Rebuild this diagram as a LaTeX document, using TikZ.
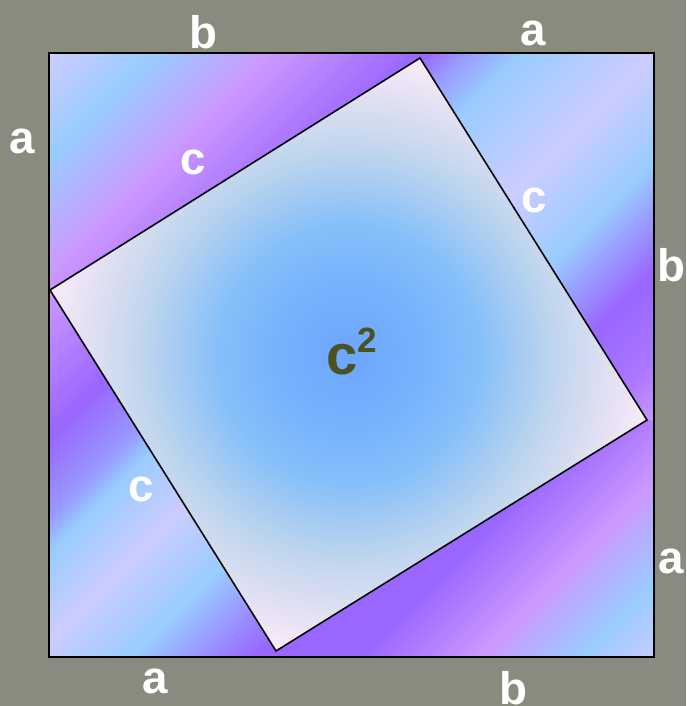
\documentclass[tikz,border=0pt]{standalone}
\usepackage{fontspec}
\setsansfont{Liberation Sans}
\usetikzlibrary{calc}

\definecolor{slate}{HTML}{878C7E}
\definecolor{lav}{HTML}{CCCCFF}
\definecolor{sky}{HTML}{99CCFF}
\definecolor{orchid}{HTML}{CC99FF}
\definecolor{periw}{HTML}{9999FF}
\definecolor{midviolet}{HTML}{AA77FF}
\definecolor{dkviolet}{HTML}{9966FF}
\definecolor{moss}{HTML}{4B5222}
\definecolor{glowA}{HTML}{6CA6FF}
\definecolor{glowB}{HTML}{76B2FC}
\definecolor{glowC}{HTML}{86C0F9}
\definecolor{glowD}{HTML}{A2CAF3}
\definecolor{glowE}{HTML}{BDD5EE}
\definecolor{glowF}{HTML}{D4DCEF}
\definecolor{glowG}{HTML}{EAE3F5}
\definecolor{glowH}{HTML}{F8ECF8}

% stripes of the four corner triangles (all mapped on the outer square)
\pgfdeclarehorizontalshading{triTL}{100bp}{color(0bp)=(lav); color(14.7bp)=(lav); color(20.6bp)=(sky);
  color(27.4bp)=(orchid); color(36.4bp)=(dkviolet); color(100bp)=(dkviolet)}
\pgfdeclarehorizontalshading{triTR}{100bp}{color(0bp)=(dkviolet); color(36.6bp)=(dkviolet); color(38.9bp)=(periw);
  color(42.2bp)=(sky); color(50bp)=(lav); color(56.4bp)=(sky); color(59.6bp)=(periw);
  color(62.9bp)=(dkviolet); color(68bp)=(midviolet); color(72bp)=(orchid); color(100bp)=(orchid)}
\pgfdeclarehorizontalshading{triBR}{100bp}{color(0bp)=(dkviolet); color(68bp)=(dkviolet); color(75.3bp)=(orchid);
  color(81.2bp)=(sky); color(86bp)=(lav); color(100bp)=(lav)}
\pgfdeclarehorizontalshading{triBL}{100bp}{color(0bp)=(orchid); color(28.5bp)=(orchid); color(37bp)=(dkviolet);
  color(41.8bp)=(periw); color(43.8bp)=(sky); color(49bp)=(lav); color(54.9bp)=(sky);
  color(58.4bp)=(periw); color(62.1bp)=(dkviolet); color(100bp)=(dkviolet)}
% glow of the inner square
\pgfdeclareradialshading{squareglow}{\pgfpointorigin}{color(0bp)=(glowA); color(6bp)=(glowB);
  color(11bp)=(glowC); color(14bp)=(glowD); color(17bp)=(glowE); color(20bp)=(glowF);
  color(23bp)=(glowG); color(25.5bp)=(glowH); color(50bp)=(glowH)}

\begin{document}
\begin{tikzpicture}[
  x=0.02cm, y=-0.02cm,
  sidelbl/.style={text=white, inner sep=0pt, font=\sffamily\bfseries\fontsize{26}{26}\selectfont},
  arealbl/.style={text=moss, inner sep=0pt, font=\sffamily\bfseries\fontsize{32}{32}\selectfont},
]

% Background
\useasboundingbox (0,0) rectangle (686,706);
\fill[slate] (0,0) rectangle (686,706);

% Outer square and inner (tilted) square
\coordinate (TL) at (49,53);
\coordinate (TR) at (654,53);
\coordinate (BR) at (654,657);
\coordinate (BL) at (49,657);
\coordinate (Qt) at (420,58);
\coordinate (Qr) at (647,420);
\coordinate (Qb) at (276,651);
\coordinate (Ql) at (50,290);
\coordinate (O) at (351.5,355);

% Corner triangles
\foreach \corner/\fromv/\tov/\sh in {TL/Ql/Qt/triTL, TR/Qt/Qr/triTR, BR/Qr/Qb/triBR, BL/Qb/Ql/triBL} {
  \begin{scope}
    \clip (\corner) -- ($(O)!1.3!(\fromv)$) -- (O) -- ($(O)!1.3!(\tov)$) -- cycle;
    \shade[shading=\sh, shading angle=-45] (TL) rectangle (BR);
  \end{scope}
}

% Inner square
\shadedraw[shading=squareglow, draw=black, line width=0.9pt, line join=miter]
  (Qt) -- (Qr) -- (Qb) -- (Ql) -- cycle;

\draw[black, line width=1.2pt] (TL) rectangle (BR);

% Side labels
\node[sidelbl] (topB) at (203,32) {b};
\node[sidelbl] (topA) at (533,33) {a};
\node[sidelbl] (leftA) at (22,141) {a};
\node[sidelbl] (rightB) at (671,265) {b};
\node[sidelbl] (rightA) at (671,561) {a};
\node[sidelbl] (botA) at (155,681) {a};
\node[sidelbl] (botB) at (513,688) {b};
\node[sidelbl] (hypTL) at (193,162) {c};
\node[sidelbl] (hypTR) at (534,200) {c};
\node[sidelbl] (hypBL) at (141,489) {c};

% Area label
\node[arealbl] (area) at (351.5,351.5) {c\raisebox{12.5pt}{\fontsize{20}{20}\selectfont 2}};

\end{tikzpicture}
\end{document}
